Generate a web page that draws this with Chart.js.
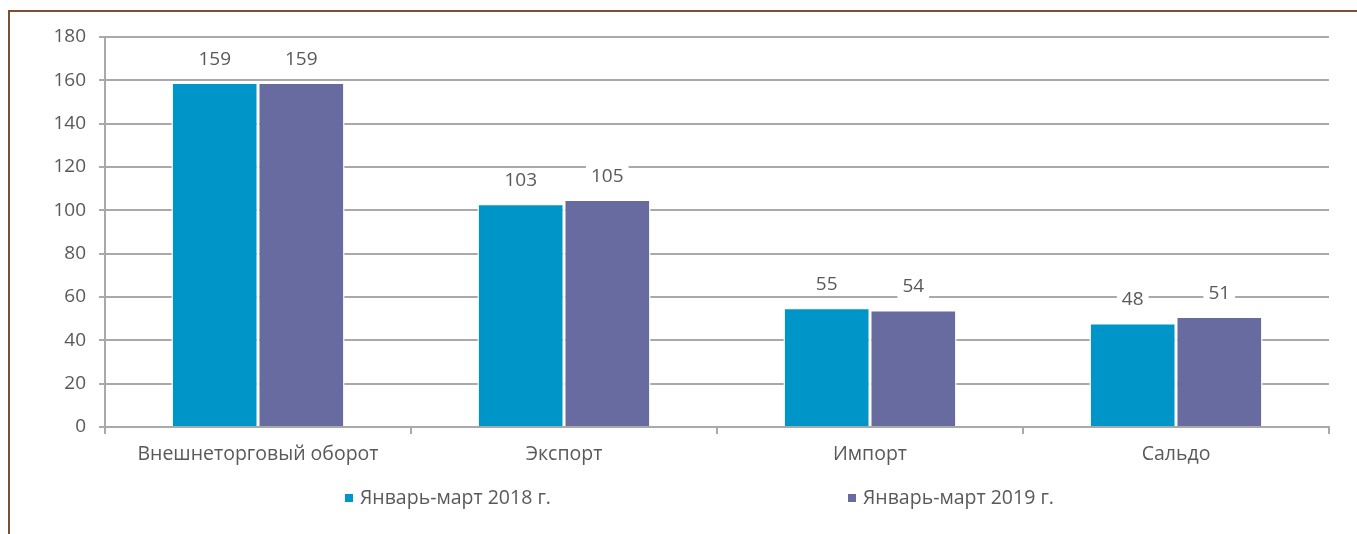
<!DOCTYPE html>
<html><head><meta charset="utf-8">
<script src="https://cdn.jsdelivr.net/npm/chart.js@4.4.1/dist/chart.umd.min.js"></script>
<style>
html,body{margin:0;padding:0;background:#fff;width:1357px;height:534px;overflow:hidden;}
#frameTop{position:absolute;left:8px;top:10px;width:1349px;height:2px;background:#7B5031;}
#frameLeft{position:absolute;left:8px;top:10px;width:2px;height:524px;background:#7B5031;}
#wrap{position:absolute;left:0;top:0;width:1357px;height:534px;}
.leg{position:absolute;top:484px;font-family:'Open Sans',sans-serif;font-size:19.5px;color:#595959;white-space:nowrap;line-height:26px;}
.leg span.box{display:inline-block;width:8px;height:8px;margin-right:7px;vertical-align:2px;}
</style></head>
<body>
<div id="wrap"><canvas id="c" width="1357" height="534"></canvas></div>
<div id="frameTop"></div><div id="frameLeft"></div>
<div id="legend"></div>
<script>
const categories = ["Внешнеторговый оборот", "Экспорт", "Импорт", "Сальдо"];
const seriesNames = ["Январь-март 2018 г.", "Январь-март 2019 г."];
const values2018 = [159, 103, 55, 48];
const values2019 = [159, 105, 54, 51];
const yTicks = [0, 20, 40, 60, 80, 100, 120, 140, 160, 180];
const colors = ["#0095C8", "#676B9F"];

const FONT = "'Open Sans', sans-serif";
const TXT = "#595959";
const GRID = "#A9A9A9";

const labelPlugin = {
  id: 'barLabels',
  afterDatasetsDraw(chart) {
    const ctx = chart.ctx;
    ctx.save();
    ctx.font = "19px " + FONT;
    ctx.textAlign = "center";
    ctx.textBaseline = "middle";
    chart.data.datasets.forEach((ds, di) => {
      const meta = chart.getDatasetMeta(di);
      meta.data.forEach((bar, i) => {
        const txt = String(ds.data[i]);
        const w = ctx.measureText(txt).width + 10;
        const cy = bar.y - 23;
        ctx.fillStyle = "#fff";
        ctx.fillRect(bar.x - w / 2, cy - 11, w, 22);
        ctx.fillStyle = TXT;
        ctx.fillText(txt, bar.x, cy);
      });
    });
    ctx.restore();
  }
};

new Chart(document.getElementById('c'), {
  type: 'bar',
  data: {
    labels: categories,
    datasets: [
      { label: seriesNames[0], data: values2018, backgroundColor: colors[0], borderColor: "#fff", borderWidth: {left:1.5,right:1.5,top:1.5,bottom:0} },
      { label: seriesNames[1], data: values2019, backgroundColor: colors[1], borderColor: "#fff", borderWidth: {left:1.5,right:1.5,top:1.5,bottom:0} }
    ]
  },
  options: {
    responsive: false,
    animation: false,
    events: [],
    layout: { padding: { left: 20, top: 37, right: 28, bottom: 0 } },
    plugins: { legend: { display: false }, tooltip: { enabled: false } },
    datasets: { bar: { categoryPercentage: 0.566, barPercentage: 1.0 } },
    scales: {
      x: {
        grid: { offset: true, drawOnChartArea: false, drawTicks: true, tickLength: 7, color: GRID, lineWidth: 2 },
        border: { color: GRID, width: 2 },
        ticks: { color: TXT, font: { family: FONT, size: 19.5 }, padding: 9, maxRotation: 0 },
        afterFit(s) { s.height = 107; }
      },
      y: {
        min: 0, max: 180,
        afterBuildTicks(s) { s.ticks = yTicks.map(v => ({ value: v })); },
        grid: { color: GRID, lineWidth: 2, tickLength: 6, drawTicks: true },
        border: { color: GRID, width: 2 },
        ticks: { color: TXT, font: { family: FONT, size: 19 }, padding: 13 },
        afterFit(s) { s.width = 85; }
      }
    }
  },
  plugins: [labelPlugin]
});

const legendPos = [345, 848];
const legendEl = document.getElementById('legend');
seriesNames.forEach((name, i) => {
  const d = document.createElement('div');
  d.className = 'leg';
  d.style.left = legendPos[i] + 'px';
  d.innerHTML = '<span class="box" style="background:' + colors[i] + '"></span>' + name;
  legendEl.appendChild(d);
});
</script>
</body></html>
